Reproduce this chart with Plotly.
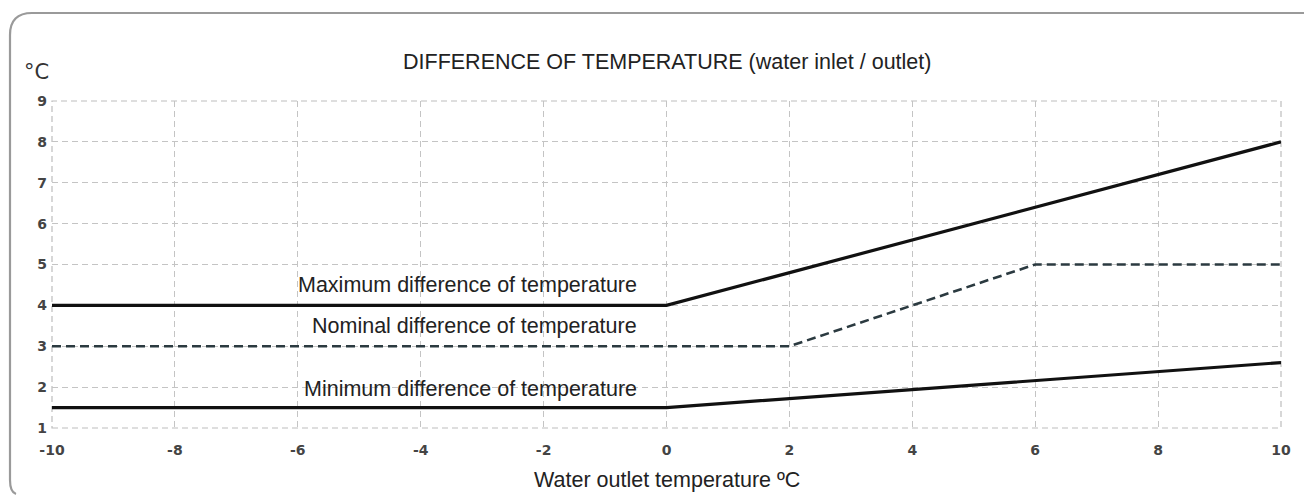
import plotly.graph_objects as go

# Data
max_x = [-10, 0, 10]
max_y = [4, 4, 8]
nom_x = [-10, 2, 6, 10]
nom_y = [3, 3, 5, 5]
min_x = [-10, 0, 10]
min_y = [1.5, 1.5, 2.6]

x_ticks = [-10, -8, -6, -4, -2, 0, 2, 4, 6, 8, 10]
y_ticks = [1, 2, 3, 4, 5, 6, 7, 8, 9]

labels = ["Maximum difference of temperature",
          "Nominal difference of temperature",
          "Minimum difference of temperature"]
label_y = [4.5, 3.5, 1.95]

OFF = 8  # browser body margin
W, H = 1312 - OFF, 498 - OFF
ML, MR, MT, MB = 52 - OFF, 31, 101 - OFF, 70
PW, PH = W - ML - MR, H - MT - MB

def px(x):
    return (x - OFF - ML) / PW

def py(y):
    return (H + OFF - MB - y) / PH

FS = 21.5
TXT = dict(family="Liberation Sans, Arial", size=FS, color="#222222")

fig = go.Figure()
fig.add_trace(go.Scatter(x=max_x, y=max_y, mode="lines",
                         line=dict(color="#111111", width=3.2), showlegend=False))
fig.add_trace(go.Scatter(x=nom_x, y=nom_y, mode="lines",
                         line=dict(color="#2b3a40", width=2.6, dash="9px,5px"), showlegend=False))
fig.add_trace(go.Scatter(x=min_x, y=min_y, mode="lines",
                         line=dict(color="#111111", width=3.2), showlegend=False))

annotations = []
for t, yy in zip(labels, label_y):
    annotations.append(dict(x=-0.45, y=yy, xref="x", yref="y", text=t, showarrow=False,
                            xanchor="right", yanchor="middle", font=TXT))

annotations.append(dict(x=0.5, y=py(480), xref="paper", yref="paper",
                        text="Water outlet temperature ºC", showarrow=False,
                        xanchor="center", yanchor="middle", font=TXT))
annotations.append(dict(x=0.5, y=py(62), xref="paper", yref="paper",
                        text="DIFFERENCE OF TEMPERATURE (water inlet / outlet)", showarrow=False,
                        xanchor="center", yanchor="middle", font=TXT))
annotations.append(dict(x=px(22), y=py(72), xref="paper", yref="paper",
                        text="°C", showarrow=False, xanchor="left", yanchor="middle",
                        font=dict(family="DejaVu Sans", size=21, color="#333333")))

# Rounded outer frame (left and top edges)
x0, x1 = px(10), px(1309)
ytop, ybot = py(13), py(494)
path = (f"M {px(16)},{ybot} Q {x0},{py(492)} {x0},{py(480)} "
        f"L {x0},{py(35)} Q {x0},{ytop} {px(32)},{ytop} "
        f"L {x1},{ytop} L {px(1312)},{py(16)}")

shapes = [
    dict(type="path", path=path, xref="paper", yref="paper",
         line=dict(color="#9a9a9a", width=2.2)),
    dict(type="rect", xref="paper", yref="paper", x0=0, x1=1, y0=0, y1=1,
         line=dict(color="#bdbdbd", width=1.2, dash="6px,4px"), layer="below"),
]

tickfont = dict(family="DejaVu Sans", size=14, color="#444444", weight="bold")

fig.update_layout(
    width=W, height=H,
    margin=dict(l=ML, r=MR, t=MT, b=MB),
    paper_bgcolor="white", plot_bgcolor="white",
    annotations=annotations, shapes=shapes,
    xaxis=dict(range=[-10, 10], tickvals=x_ticks, ticktext=[str(v) for v in x_ticks],
               showgrid=True, gridcolor="#c4c4c4", gridwidth=1, griddash="6px,4px",
               zeroline=False, showline=False, ticks="", ticklabelstandoff=12,
               tickfont=tickfont),
    yaxis=dict(range=[1, 9], tickvals=y_ticks, ticktext=[str(v) for v in y_ticks],
               showgrid=True, gridcolor="#c4c4c4", gridwidth=1, griddash="6px,4px",
               zeroline=False, showline=False, ticks="", ticklabelstandoff=4,
               tickfont=tickfont),
)

fig.write_html("out.html")
